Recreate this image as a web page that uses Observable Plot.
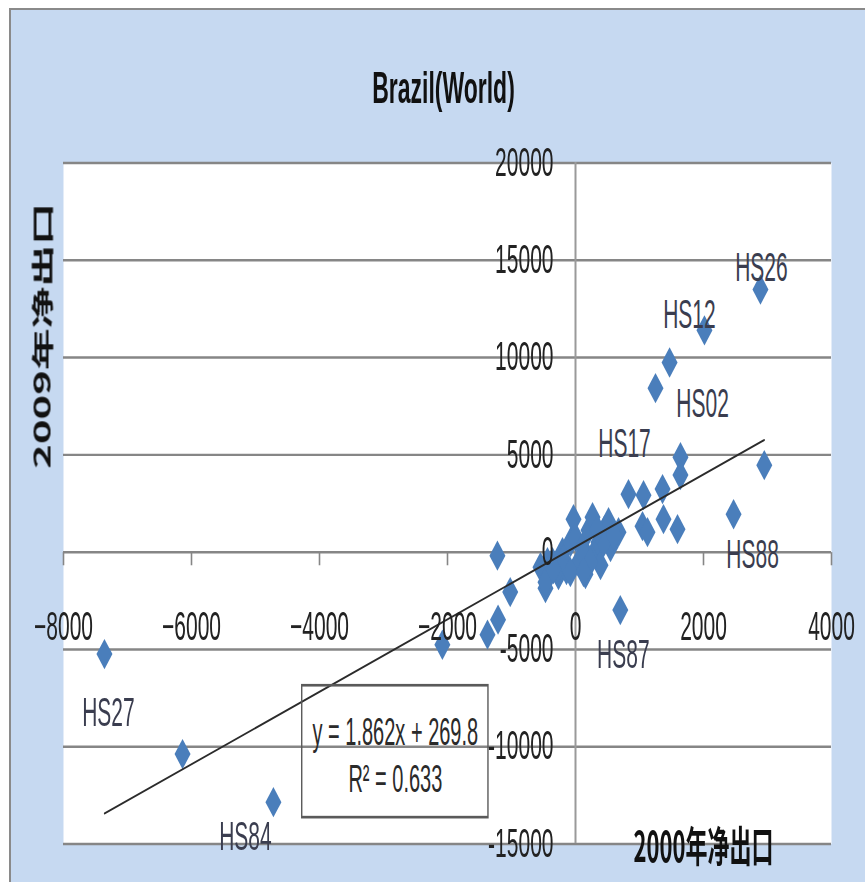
<!DOCTYPE html>
<html>
<head>
<meta charset="utf-8">
<script src="https://cdn.jsdelivr.net/npm/d3@7"></script>
<script src="https://cdn.jsdelivr.net/npm/@observablehq/plot@0.6"></script>
<style>
  html, body { margin: 0; padding: 0; background: #ffffff; }
  body { width: 865px; height: 882px; overflow: hidden; position: relative; }
  #bg { position: absolute; left: 9px; top: 8px; right: 0; bottom: 0; background: #c6d9f1;
        border-left: 2px solid #8a8a8a; border-top: 2px solid #8a8a8a; }
  #chart { position: absolute; left: 0; top: 0; width: 865px; height: 464px;
           transform: scaleY(1.9); transform-origin: 0 0; }
</style>
</head>
<body>
<div id="bg"></div>
<div id="chart"></div>
<script>
// ---- data (2000 net export, 2009 net export) ----
const labelCodes = ["HS26", "HS12", "HS02", "HS17", "HS88", "HS87", "HS27", "HS84"];
const labelX = [2890, 2015, 1470, 1250, 2470, 700, -7360, -4720];
const labelY = [13500, 11400, 9750, 8430, 1950, -2980, -5240, -12850];

const otherX = [2950, -6140, -2080, -1220, -1020, -1210, -1375, -469, -438,
  1640, 1640, 828, 1063, 1360, 1047, 1125, 1375, 1594,
  -547, -469, -359, -266, -203, -141, -78, -31, 0, 47, 109, 156, 203, 266, 297,
  359, 391, 453, 516, 547, 609, 672, -280, -190, 125, 230, 440, 340, 600, -80, 125, -344];
const otherY = [4470, -10380, -4760, -180, -2055, -3470, -4240, -1850, -514,
  4880, 3960, 2980, 2930, 3240, 1336, 1028, 1696, 1182,
  -771, -1542, -514, -1182, 0, -925, 514, 1696, 771, -514, 257, -1130, 1130, 1799, 0,
  514, -668, 1130, 1542, 257, 771, 1028, -870, -360, -150, -510, 510, 1180, 870, -1030, -1030, -874];

const xTicks = [-8000, -6000, -4000, -2000, 0, 2000, 4000];
const xTickLabels = ["\u22128000", "\u22126000", "\u22124000", "\u22122000", "0", "2000", "4000"];
const yTicks = [-15000, -10000, -5000, 0, 5000, 10000, 15000, 20000];
const yTickLabels = ["-15000", "-10000", "-5000", "0", "5000", "10000", "15000", "20000"];

const trendSlope = 1.862;
const trendIntercept = 269.8;
const eqText = "y = 1.862x + 269.8";
const r2Text = "R\u00b2 = 0.633";
const titleText = "Brazil(World)";
const xLabelText = "2000年净出口";
const yLabelText = "2009年净出口";

// ---- build tables ----
const labeled = labelCodes.map((c, i) => ({code: c, x: labelX[i], y: labelY[i]}));
const others = otherX.map((x, i) => ({x, y: otherY[i]}));
const allPts = others.concat(labeled);
const trendXs = d3.extent(allPts, d => d.x);

// label placement offsets (styling)
const labelOffsets = {
  HS26: [1, -11], HS12: [-15, -8], HS02: [33, 22], HS17: [-31, 29.5],
  HS88: [19, 21.6], HS87: [3, 23.7], HS27: [4, 31], HS84: [-28, 18.4]
};
// equation label box (annotation, in data units)
const eqBox = [{x1: -4270, x2: -1360, y1: -13670, y2: -6890}];

const tickSymbol = { draw(ctx, size) { const l = Math.sqrt(size); ctx.moveTo(0, 0); ctx.lineTo(0, l); } };

const latin = "Liberation Sans, Arial, sans-serif";
const cjk = "Noto Sans CJK SC, sans-serif";

const chart = Plot.plot({
  width: 865,
  height: 464,
  marginLeft: 63,
  marginRight: 34,
  marginTop: 85.3,
  marginBottom: 20.3,
  style: {background: "none", overflow: "visible", maxWidth: "none"},
  x: {domain: [-8000, 4000], axis: null},
  y: {domain: [-15000, 20000], axis: null},
  marks: [
    Plot.frame({fill: "white", stroke: null}),
    Plot.ruleY(yTicks, {stroke: "#868686", strokeWidth: 1.3}),
    Plot.ruleX([0], {stroke: "#9a9a9a", strokeWidth: 2}),
    Plot.dot(xTicks, {x: d => d, y: 0, symbol: tickSymbol, r: 3.9, stroke: "#868686", strokeWidth: 1.6, fill: "none"}),
    Plot.dot(allPts, {x: "x", y: "y", symbol: "diamond2", r: 7.2, fill: "#4a7ebb"}),
    Plot.line(trendXs, {x: d => d, y: d => trendSlope * d + trendIntercept, stroke: "#2b2b2b", strokeWidth: 1.1}),
    Plot.rect(eqBox, {x1: "x1", x2: "x2", y1: "y1", y2: "y2", fill: "none", stroke: "#5a5a5a", strokeWidth: 1.4}),
    Plot.text(eqBox, {x: d => (d.x1 + d.x2) / 2, y: d => d.y2 - (d.y2 - d.y1) * 0.35, text: () => eqText,
      fontFamily: latin, fontSize: 20, fill: "#2a2a2a"}),
    Plot.text(eqBox, {x: d => (d.x1 + d.x2) / 2, y: d => d.y2 - (d.y2 - d.y1) * 0.71, text: () => r2Text,
      fontFamily: latin, fontSize: 20, fill: "#2a2a2a"}),
    Plot.text(yTicks, {x: 0, y: d => d, text: (d, i) => yTickLabels[i], textAnchor: "end", dx: -22,
      fontFamily: latin, fontSize: 21, fill: "#222"}),
    Plot.text(xTicks, {x: d => d, y: 0, text: (d, i) => xTickLabels[i], dy: 39.5,
      fontFamily: latin, fontSize: 21, fill: "#222"}),
    ...labeled.map(d => Plot.text([d], {x: "x", y: "y", text: "code",
      dx: labelOffsets[d.code][0], dy: labelOffsets[d.code][1],
      fontFamily: latin, fontSize: 21, fill: "#3a3d4f"})),
    Plot.text([titleText], {frameAnchor: "top", text: d => d, textAnchor: "middle", lineAnchor: "middle", dx: -4, dy: -39,
      fontFamily: latin, fontWeight: "bold", fontSize: 23, fill: "#111"}),
    Plot.text([xLabelText], {frameAnchor: "bottom-right", text: d => d, textAnchor: "middle", lineAnchor: "middle", dx: -128, dy: 2.6,
      fontFamily: cjk, fontWeight: "bold", fontSize: 22, fill: "#111"}),
    Plot.text([yLabelText], {frameAnchor: "left", text: d => d, rotate: -90, textAnchor: "middle", lineAnchor: "middle", dx: -20, dy: -88.2,
      fontFamily: cjk, fontWeight: "bold", fontSize: 22, fill: "#111"})
  ]
});
document.getElementById("chart").appendChild(chart);
</script>
</body>
</html>
